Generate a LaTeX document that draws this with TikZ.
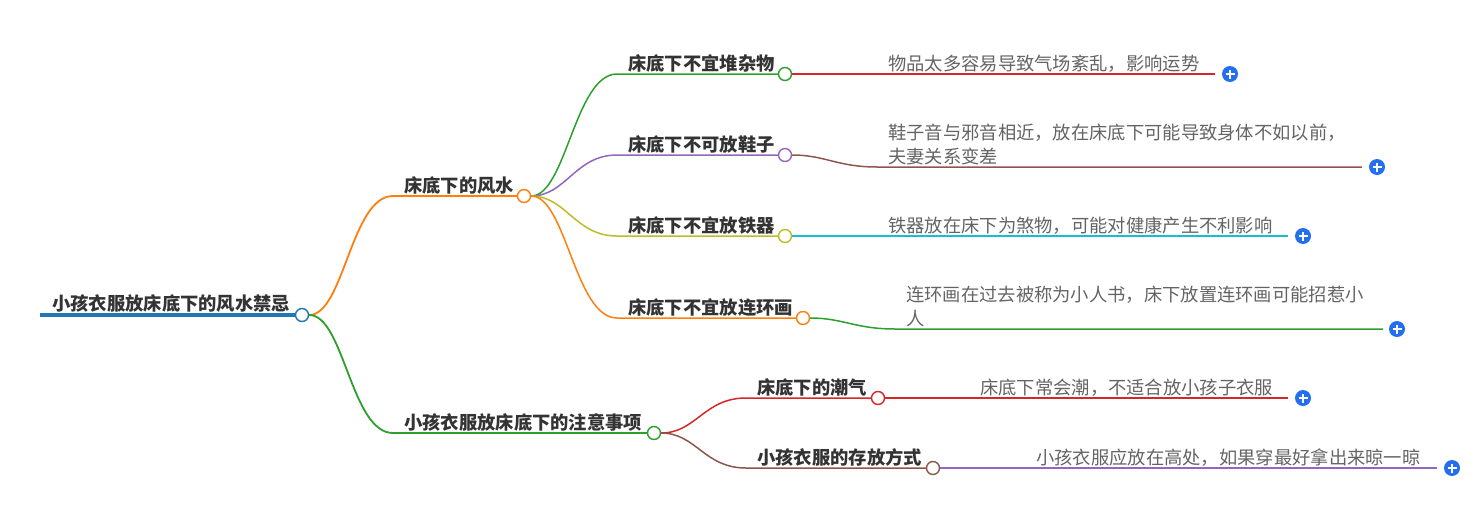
\documentclass[tikz,border=0pt]{standalone}
\usepackage{fontspec}
\usepackage{tikz}
\newfontfamily\cjk{Noto Sans CJK SC}
\definecolor{rootblue}{RGB}{31, 119, 180}
\definecolor{corange}{RGB}{255, 127, 14}
\definecolor{cgreen}{RGB}{44, 160, 44}
\definecolor{cred}{RGB}{214, 39, 40}
\definecolor{cpurple}{RGB}{148, 103, 189}
\definecolor{cbrown}{RGB}{140, 86, 75}
\definecolor{colive}{RGB}{188, 189, 34}
\definecolor{ccyan}{RGB}{23, 190, 207}
\definecolor{plusblue}{RGB}{36, 110, 240}
\definecolor{textdark}{RGB}{51, 51, 51}
\definecolor{textgray}{RGB}{100, 100, 100}

\tikzset{
  topic/.style={font=\cjk\bfseries\fontsize{18.3}{24}\selectfont, text=textdark,
      anchor=base west, inner sep=0pt},
  leaf/.style={font=\cjk\fontsize{18.3}{24}\selectfont, text=textgray,
      anchor=base west, inner sep=0pt, align=left},
  knob/.style={circle, draw=#1, fill=white, line width=1.4pt,
      minimum size=13pt, inner sep=0pt},
  plusmark/.style={circle, fill=plusblue, minimum size=16pt, inner sep=0pt,
      path picture={
        \draw[white, line width=1.8pt]
        ([xshift=-4.5pt]path picture bounding box.center) -- ([xshift=4.5pt]path picture bounding box.center)
        ([yshift=-4.5pt]path picture bounding box.center) -- ([yshift=4.5pt]path picture bounding box.center);
      }},
  link/.style={draw=#1, line width=1.5pt},
}

\begin{document}
\begin{tikzpicture}[x=1pt, y=-1pt]
    \useasboundingbox (0, 0) rectangle (1481, 509);

    % root
    \coordinate (r0) at (40, 315);
    \node[topic] (t0) at (52, 310) {小孩衣服放床底下的风水禁忌};
    \node[knob=rootblue] (c0) at (302, 315) {};

    % first level
    \coordinate (s1) at (393, 196);
    \node[topic] (t1) at (404, 192) {床底下的风水};
    \node[knob=corange] (c1) at (524, 196) {};
    \coordinate (s2) at (393, 433);
    \node[topic] (t2) at (404, 429) {小孩衣服放床底下的注意事项};
    \node[knob=cgreen] (c2) at (654, 433) {};

    % second level
    \foreach \n/\y/\cx/\col/\txt in {
            11/74/785/cgreen/床底下不宜堆杂物,
            12/155/785/cpurple/床底下不可放鞋子,
            13/236/785/colive/床底下不宜放铁器,
            14/318/803/corange/床底下不宜放连环画} {
            \coordinate (s\n) at (617, \y);
            \node[topic] (t\n) at (628, \y - 4) {\txt};
            \node[knob=\col] (c\n) at (\cx, \y) {};
        }
    \foreach \n/\y/\cx/\col/\txt in {
            21/398/878/cred/床底下的潮气,
            22/468/933/cbrown/小孩衣服的存放方式} {
            \coordinate (s\n) at (746, \y);
            \node[topic] (t\n) at (757, \y - 4) {\txt};
            \node[knob=\col] (c\n) at (\cx, \y) {};
        }

    % leaves
    \coordinate (s111) at (877, 74);
    \node[leaf] (t111) at (888, 70) {物品太多容易导致气场紊乱，影响运势};
    \coordinate (e111) at (1215, 74);
    \node[plusmark] (p111) at (1230, 74) {};

    \coordinate (s121) at (877, 167);
    \node[leaf] (t121) at (888, 163) {鞋子音与邪音相近，放在床底下可能导致身体不如以前，\\夫妻关系变差};
    \coordinate (e121) at (1362, 167);
    \node[plusmark] (p121) at (1377, 167) {};

    \coordinate (s131) at (877, 236);
    \node[leaf] (t131) at (888, 232) {铁器放在床下为煞物，可能对健康产生不利影响};
    \coordinate (e131) at (1288, 236);
    \node[plusmark] (p131) at (1303, 236) {};

    \coordinate (s141) at (895, 329);
    \node[leaf] (t141) at (906, 325) {连环画在过去被称为小人书，床下放置连环画可能招惹小\\人};
    \coordinate (e141) at (1383, 329);
    \node[plusmark] (p141) at (1397, 329) {};

    \coordinate (s211) at (969, 398);
    \node[leaf] (t211) at (980, 394) {床底下常会潮，不适合放小孩子衣服};
    \coordinate (e211) at (1288, 398);
    \node[plusmark] (p211) at (1303, 398) {};

    \coordinate (s221) at (1025, 468);
    \node[leaf] (t221) at (1036, 464) {小孩衣服应放在高处，如果穿最好拿出来晾一晾};
    \coordinate (e221) at (1437, 468);
    \node[plusmark] (p221) at (1452, 468) {};

    % connectors
    \draw[line width=4pt, rootblue] (r0) -- (c0);
    \draw[link=corange, line width=1.8pt] (c0) .. controls +(42, 0) and +(-42, 0) .. (s1) -- (c1);
    \draw[link=cgreen, line width=1.8pt] (c0) .. controls +(42, 0) and +(-42, 0) .. (s2) -- (c2);

    \draw[link=cgreen] (c1) .. controls +(42, 0) and +(-42, 0) .. (s11) -- (c11);
    \draw[link=cpurple] (c1) .. controls +(42, 0) and +(-42, 0) .. (s12) -- (c12);
    \draw[link=colive] (c1) .. controls +(42, 0) and +(-42, 0) .. (s13) -- (c13);
    \draw[link=corange] (c1) .. controls +(42, 0) and +(-42, 0) .. (s14) -- (c14);
    \draw[link=cred] (c2) .. controls +(42, 0) and +(-42, 0) .. (s21) -- (c21);
    \draw[link=cbrown] (c2) .. controls +(42, 0) and +(-42, 0) .. (s22) -- (c22);

    \draw[link=cred] (c11) .. controls +(40, 0) and +(-40, 0) .. (s111) -- (e111);
    \draw[link=cbrown] (c12) .. controls +(40, 0) and +(-40, 0) .. (s121) -- (e121);
    \draw[link=ccyan] (c13) .. controls +(40, 0) and +(-40, 0) .. (s131) -- (e131);
    \draw[link=cgreen] (c14) .. controls +(40, 0) and +(-40, 0) .. (s141) -- (e141);
    \draw[link=cred] (c21) .. controls +(40, 0) and +(-40, 0) .. (s211) -- (e211);
    \draw[link=cpurple] (c22) .. controls +(40, 0) and +(-40, 0) .. (s221) -- (e221);

\end{tikzpicture}
\end{document}
